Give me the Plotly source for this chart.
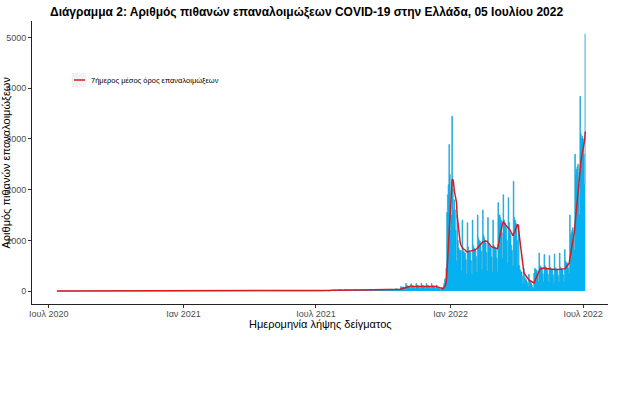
import pandas as pd
import plotly.graph_objects as go

# ---------------- data (daily probable reinfections, by sampling date) ----------------
start_date = "2020-07-12"

jul_2020 = [0,0,1,0,0,0,0,0,1,0,0,0,0,0,0,1,0,0,0,0]
aug_2020 = [0,0,1,0,0,0,0,0,0,1,0,0,0,1,0,0,0,0,1,0,0,0,0,0,1,0,0,0,1,0,0]
sep_2020 = [0,1,0,0,0,1,0,0,1,0,0,0,0,1,0,0,1,0,0,0,1,0,0,0,1,0,0,1,0,0]
oct_2020 = [1,0,0,1,0,1,0,0,1,0,0,1,0,1,0,0,1,0,1,0,0,1,0,1,0,1,0,1,1,0,1]
nov_2020 = [1,0,1,1,2,1,0,1,2,1,1,2,1,0,1,2,2,1,2,1,0,2,2,1,2,2,1,0,2,2]
dec_2020 = [1,2,2,1,1,0,2,2,1,2,1,1,0,2,1,2,1,1,1,0,2,1,1,1,1,0,0,1,1,1,1]
jan_2021 = [0,1,0,1,1,1,1,1,0,0,2,1,1,1,2,1,0,2,1,2,1,1,2,0,2,2,1,2,2,1,1]
feb_2021 = [2,2,2,1,2,1,1,2,2,3,2,2,1,1,3,2,2,3,2,2,1,3,3,2,3,3,2,1]
mar_2021 = [4,3,3,4,3,2,2,5,4,4,4,3,3,2,5,5,4,5,4,3,2,6,5,5,4,4,3,2,6,5,5]
apr_2021 = [5,4,3,2,6,6,5,5,4,3,2,6,5,5,5,4,3,2,6,5,5,4,4,3,2,5,5,4,4,3]
may_2021 = [2,1,3,5,4,4,3,3,2,5,4,4,4,3,2,2,4,4,4,3,3,2,1,4,4,3,3,3,2,1,4]
jun_2021 = [4,3,3,3,2,1,4,4,3,3,3,2,1,4,4,3,3,3,2,1,4,4,4,3,3,2,1,5,4,4]
jul_2021 = [4,5,3,2,8,6,7,8,9,6,3,12,11,13,14,15,10,6,20,17,18,19,20,14,8,28,22,24,23,22,15]
aug_2021 = [9,32,26,27,25,24,18,10,34,28,27,26,25,18,8,30,27,26,25,24,17,9,33,27,26,25,24,18,10,32,27]
sep_2021 = [26,25,24,17,9,33,27,26,25,24,17,9,32,26,25,24,23,16,8,31,25,24,23,22,16,8,30,25,24,23]
oct_2021 = [24,18,10,36,30,30,29,28,21,11,40,33,33,32,31,24,13,48,40,40,39,38,29,16,90,75,80,80,80,60,35]
nov_2021 = [150,110,105,100,95,75,40,145,110,105,100,95,75,40,150,115,110,105,100,75,40,155,115,110,105,100,75,40,150,110]
dec_2021 = [110,100,95,70,40,150,110,105,95,90,65,35,120,80,60,50,45,35,20,70,60,80,150,230,250,450,1550,1900,2100,2890,2300]
jan_2022 = [1200,1500,3445,2000,1600,1800,1600,1200,600,1500,1000,850,810,800,800,400,1400,800,780,760,740,620,330,1350,870,800,780,760,600,330,1400]
feb_2022 = [900,850,830,800,680,380,1500,1050,1000,980,950,780,420,1600,1100,1050,1000,950,760,400,1450,950,900,870,850,680,380,1400]
mar_2022 = [900,870,850,820,650,380,1745,1500,1500,1450,1400,1150,650,1900,1400,1350,1300,1250,1000,550,1840,1350,1150,1100,900,800,500,2165,1450,1400,1350]
apr_2022 = [1300,1000,500,1300,500,420,380,380,300,150,450,280,250,230,200,160,90,330,200,180,160,120,80,40,350,450,430,420,400,330]
may_2022 = [180,750,500,480,470,450,340,190,720,500,470,460,440,330,190,700,470,450,430,410,320,170,730,460,440,430,420,310,180,750,470]
jun_2022 = [450,430,420,320,190,820,600,560,560,540,450,330,1500,1100,1150,1200,1250,1050,800,2700,2300,2400,2450,2500,2100,1500,3840,3100,3000,3050]
jul_2022 = [3000,2700,2100,5070]

tick_dates = ["2020-07-01", "2021-01-01", "2021-07-01", "2022-01-01", "2022-07-01"]
tick_labels = ["Ιουλ 2020", "Ιαν 2021", "Ιουλ 2021", "Ιαν 2022", "Ιουλ 2022"]
y_ticks = [0, 1000, 2000, 3000, 4000, 5000]

title_text = "Διάγραμμα 2: Αριθμός πιθανών επαναλοιμώξεων COVID-19 στην Ελλάδα, 05 Ιουλίου 2022"
x_title = "Ημερομηνία λήψης δείγματος"
y_title = "Αριθμός πιθανών επαναλοιμώξεων"
legend_label = "7ήμερος μέσος όρος επαναλοιμώξεων"

# ---------------- build series ----------------
months = [jul_2020, aug_2020, sep_2020, oct_2020, nov_2020, dec_2020,
          jan_2021, feb_2021, mar_2021, apr_2021, may_2021, jun_2021,
          jul_2021, aug_2021, sep_2021, oct_2021, nov_2021, dec_2021,
          jan_2022, feb_2022, mar_2022, apr_2022, may_2022, jun_2022, jul_2022]
values = [v for m in months for v in m]
dates = pd.date_range(start_date, periods=len(values), freq="D")
daily = pd.Series(values, index=dates)
avg7 = daily.rolling(7, min_periods=1).mean()

# ---------------- geometry helpers (pixel -> paper) ----------------
W, H = 626, 395
L, R, T, B = 32, 18, 21, 91
PW, PH = W - L - R, H - T - B

def px(x):
    return (x - L) / PW

def py(y):
    return (H - B - y) / PH

FONT = "Liberation Sans, Arial, sans-serif"
BAR_COLOR = "#05b1f0"

fig = go.Figure()
# daily counts drawn as contiguous day-wide columns (step area) so the thin columns render without gaps
fig.add_trace(go.Scatter(x=daily.index, y=daily.values, mode="lines",
                         line=dict(shape="hvh", width=0.6, color="#1a9fd2"),
                         fill="tozeroy", fillcolor=BAR_COLOR,
                         name="daily", showlegend=False, hoverinfo="skip"))
fig.add_trace(go.Scatter(x=avg7.index, y=avg7.values, mode="lines",
                         line=dict(color="#d41c22", width=1.5), name=legend_label, showlegend=False,
                         hoverinfo="skip"))

axis_common = dict(showline=True, linecolor="#222", linewidth=1,
                   ticks="outside", ticklen=3, tickcolor="#333", tickwidth=1,
                   tickfont=dict(family=FONT, size=9, color="#4d4d4d"),
                   showgrid=False, zeroline=False, automargin=False)

fig.update_layout(
    width=W, height=H,
    margin=dict(l=L, r=R, t=T, b=B, autoexpand=False),
    plot_bgcolor="white", paper_bgcolor="white",
    showlegend=False,
    font=dict(family=FONT, color="black"),
    xaxis=dict(type="date", range=["2020-06-08", "2022-08-04"],
               tickvals=tick_dates, ticktext=tick_labels, ticklabelstandoff=-2, **axis_common),
    yaxis=dict(range=[-254, 5324], tickvals=y_ticks, **axis_common),
)

# title
fig.add_annotation(text="<b>" + title_text + "</b>", xref="paper", yref="paper",
                   x=px(48), y=py(12), xanchor="left", yanchor="middle", showarrow=False,
                   font=dict(family=FONT, size=12, color="black"))
# axis titles
fig.add_annotation(text=x_title, xref="paper", yref="paper", x=px(320), y=py(324),
                   xanchor="center", yanchor="middle", showarrow=False,
                   font=dict(family=FONT, size=11, color="black"))
fig.add_annotation(text=y_title, xref="paper", yref="paper", x=px(5), y=0.5,
                   xanchor="center", yanchor="middle", textangle=-90, showarrow=False,
                   font=dict(family=FONT, size=11, color="black"))

# legend (drawn manually to match the short key)
fig.add_shape(type="rect", xref="paper", yref="paper", x0=px(72), x1=px(86), y0=py(87), y1=py(73),
              fillcolor="#f2f2f2", line=dict(width=0), layer="below")
fig.add_shape(type="line", xref="paper", yref="paper", x0=px(74), x1=px(85), y0=py(80), y1=py(80),
              line=dict(color="#d41c22", width=1.5))
fig.add_annotation(text=legend_label, xref="paper", yref="paper", x=px(89), y=py(80),
                   xanchor="left", yanchor="middle", showarrow=False,
                   font=dict(family=FONT, size=7.5, color="black"))

fig.write_html("out.html", config={"displayModeBar": False, "staticPlot": True},
               post_script="document.body.style.margin='0';document.body.style.overflow='hidden';")
